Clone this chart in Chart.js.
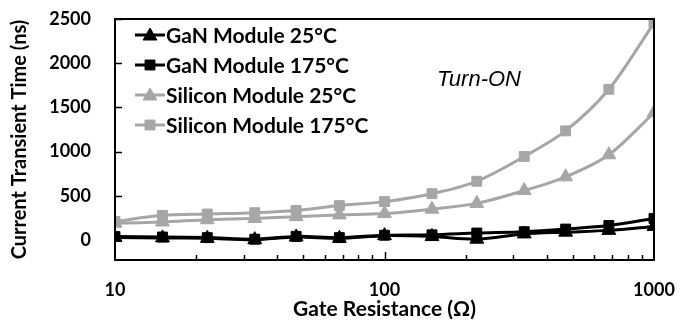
<!DOCTYPE html>
<html>
<head>
<meta charset="utf-8">
<script src="https://cdn.jsdelivr.net/npm/chart.js@4"></script>
<style>
  html, body { margin: 0; padding: 0; background: #fff; }
  #wrap { width: 693px; height: 322px; position: relative; }
</style>
</head>
<body>
<div id="wrap"><canvas id="chart"></canvas></div>
<script>
  // Gate resistance values (ohm)
  const gateResistance = [10, 15, 22, 33, 47, 68, 100, 150, 220, 330, 470, 680, 1000];

  // Current transient time (ns)
  const ganModule25 = [30, 25, 20, 5, 35, 20, 50, 40, 10, 70, 90, 110, 155];
  const ganModule175 = [40, 35, 28, 10, 42, 28, 55, 60, 80, 95, 125, 165, 245];
  const siliconModule25 = [190, 205, 230, 245, 265, 285, 300, 350, 415, 560, 715, 965, 1440];
  const siliconModule175 = [210, 280, 295, 310, 335, 390, 435, 525, 665, 945, 1235, 1705, 2455];

  const yTickValues = [0, 500, 1000, 1500, 2000, 2500];
  const xTickValues = [10, 100, 1000];
  const xMinorTicks = [20, 30, 40, 50, 60, 70, 80, 90, 200, 300, 400, 500, 600, 700, 800, 900];

  const BLACK = "#000000";
  const GRAY = "#a6a6a6";
  const FONT = "Lato";

  function series(label, values, color, style) {
    return {
      label: label,
      data: gateResistance.map((x, i) => ({ x: x, y: values[i] })),
      borderColor: color,
      backgroundColor: color,
      borderWidth: 3,
      pointStyle: style,
      pointRadius: style === "rect" ? 7 : 8,
      pointBorderWidth: 1,
      tension: 0.3,
    };
  }

  function drawMarker(ctx, style, x, y, r, color) {
    ctx.fillStyle = color;
    ctx.strokeStyle = color;
    ctx.lineWidth = 1;
    ctx.beginPath();
    if (style === "rect") {
      const s = r * Math.SQRT1_2;
      ctx.rect(x - s, y - s, 2 * s, 2 * s);
    } else {
      ctx.moveTo(x, y - r);
      ctx.lineTo(x + r * Math.sin(Math.PI / 3), y + r / 2);
      ctx.lineTo(x - r * Math.sin(Math.PI / 3), y + r / 2);
      ctx.closePath();
    }
    ctx.fill();
    ctx.stroke();
  }

  // Frame, inward tick marks, in-plot legend and annotation
  const decorations = {
    id: "decorations",
    afterDraw(chart) {
      const ctx = chart.ctx;
      const area = chart.chartArea;
      const xs = chart.scales.x;
      const ys = chart.scales.y;
      ctx.save();

      ctx.strokeStyle = BLACK;
      ctx.lineWidth = 2;
      ctx.strokeRect(area.left, area.top, area.right - area.left, area.bottom - area.top);

      ctx.lineWidth = 1.5;
      ctx.beginPath();
      yTickValues.forEach((v) => {
        const py = Math.round(ys.getPixelForValue(v)) + 0.5;
        ctx.moveTo(area.left, py);
        ctx.lineTo(area.left + 7, py);
      });
      xMinorTicks.forEach((v) => {
        const px = Math.round(xs.getPixelForValue(v)) + 0.5;
        ctx.moveTo(px, area.bottom);
        ctx.lineTo(px, area.bottom - 5);
      });
      const p100 = Math.round(xs.getPixelForValue(100)) + 0.5;
      ctx.moveTo(p100, area.bottom);
      ctx.lineTo(p100, area.bottom - 8);
      ctx.stroke();

      // legend
      ctx.font = "bold 21px " + FONT;
      ctx.textBaseline = "middle";
      ctx.textAlign = "left";
      chart.data.datasets.forEach((ds, i) => {
        const y = 35 + 30 * i;
        ctx.strokeStyle = ds.borderColor;
        ctx.lineWidth = 3;
        ctx.beginPath();
        ctx.moveTo(135, y);
        ctx.lineTo(165, y);
        ctx.stroke();
        drawMarker(ctx, ds.pointStyle, 150, y + (ds.pointStyle === "rect" ? 0 : 1), ds.pointRadius, ds.borderColor);
        ctx.fillStyle = BLACK;
        ctx.fillText(ds.label, 166, y + 1);
      });

      ctx.font = "italic 22px 'Liberation Sans'";
      ctx.textAlign = "center";
      ctx.fillStyle = BLACK;
      ctx.fillText("Turn-ON", 479, 80);
      ctx.restore();
    },
  };

  new Chart(document.getElementById("chart"), {
    type: "line",
    data: {
      datasets: [
        series("GaN Module 25°C", ganModule25, BLACK, "triangle"),
        series("GaN Module 175°C", ganModule175, BLACK, "rect"),
        series("Silicon Module 25°C", siliconModule25, GRAY, "triangle"),
        series("Silicon Module 175°C", siliconModule175, GRAY, "rect"),
      ],
    },
    options: {
      responsive: true,
      maintainAspectRatio: false,
      animation: false,
      layout: { padding: { top: 19, right: 39, left: 0, bottom: 0 } },
      plugins: {
        legend: { display: false },
        tooltip: { enabled: false },
      },
      scales: {
        x: {
          type: "logarithmic",
          min: 10,
          max: 1000,
          afterBuildTicks: (scale) => {
            scale.ticks = xTickValues.map((v) => ({ value: v }));
          },
          afterFit: (scale) => {
            scale.height = 62;
            scale.paddingLeft = 0;
            scale.paddingRight = 0;
          },
          grid: { display: false, drawTicks: false },
          border: { display: false },
          ticks: {
            color: BLACK,
            padding: 19,
            maxRotation: 0,
            autoSkip: false,
            font: { family: FONT, size: 18, weight: "bold" },
            callback: (v) => String(v),
          },
          title: {
            display: true,
            text: "Gate Resistance (Ω)",
            color: BLACK,
            padding: { top: 0, bottom: 0 },
            font: { family: FONT, size: 21, weight: "bold" },
          },
        },
        y: {
          min: -225,
          max: 2500,
          afterBuildTicks: (scale) => {
            scale.ticks = yTickValues.map((v) => ({ value: v }));
          },
          afterFit: (scale) => {
            scale.width = 115;
            scale.paddingTop = 0;
            scale.paddingBottom = 0;
          },
          grid: { display: false, drawTicks: false },
          border: { display: false },
          ticks: {
            color: BLACK,
            padding: 24,
            font: { family: FONT, size: 18, weight: "bold" },
            callback: (v) => String(v),
          },
          title: {
            display: true,
            text: "Current Transient Time (ns)",
            color: BLACK,
            padding: { top: 8, bottom: 0 },
            font: { family: FONT, size: 20, weight: "bold" },
          },
        },
      },
    },
    plugins: [decorations],
  });
</script>
</body>
</html>
